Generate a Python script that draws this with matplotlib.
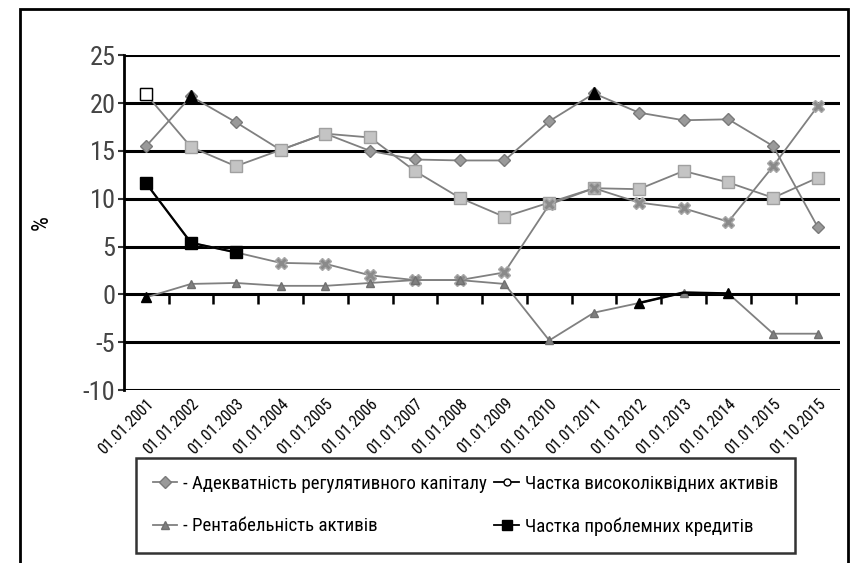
import numpy as np
import matplotlib

matplotlib.use('Agg')
import matplotlib.pyplot as plt
from matplotlib import font_manager
from matplotlib.lines import Line2D
from matplotlib.patches import Rectangle
from matplotlib.textpath import TextPath


def has_glyphs(path, text):
    try:
        ft = font_manager.get_font(path)
        return all(ft.get_char_index(ord(c)) != 0 for c in text)
    except Exception:
        return False


def text_width(path, text):
    try:
        p = font_manager.FontProperties(fname=path, size=10)
        return TextPath((0, 0), text, prop=p).get_extents().width
    except Exception:
        return 1e9


# вузький звичайний шрифт зі знайомих родин
known = ['DejaVu Sans', 'Liberation Sans', 'Noto Sans', 'Roboto', 'Open Sans', 'Lato', 'Inter']
cands = [f for f in font_manager.fontManager.ttflist
         if any(f.name.startswith(k) for k in known)
         and 'Mono' not in f.name and 'CJK' not in f.name
         and f.style == 'normal' and f.weight in (400, 'normal', 'regular', 'book')
         and has_glyphs(f.fname, 'ЧАіївкп0123456789')]
if cands:
    best = min(cands, key=lambda f: text_width(f.fname, 'Адекватність 01.01.2001'))
    fp_base = font_manager.FontProperties(fname=best.fname)
else:
    fp_base = font_manager.FontProperties(family='Liberation Sans')
plt.rcParams['axes.unicode_minus'] = False

# дати (кінці періодів)
dates = ['01.01.2001', '01.01.2002', '01.01.2003', '01.01.2004', '01.01.2005',
         '01.01.2006', '01.01.2007', '01.01.2008', '01.01.2009', '01.01.2010',
         '01.01.2011', '01.01.2012', '01.01.2013', '01.01.2014', '01.01.2015',
         '01.10.2015']

# показники, %
adequacy = [15.5, 20.7, 18.0, 15.1, 16.8, 15.0, 14.1, 14.0, 14.0, 18.1,
            21.0, 19.0, 18.2, 18.3, 15.5, 7.0]
liquid = [20.9, 15.4, 13.4, 15.1, 16.8, 16.4, 12.9, 10.1, 8.1, 9.6,
          11.1, 11.0, 12.9, 11.7, 10.1, 12.2]
roa = [-0.3, 1.1, 1.2, 0.9, 0.9, 1.2, 1.5, 1.5, 1.1, -4.8,
       -1.9, -0.9, 0.2, 0.1, -4.1, -4.1]
problem = [11.6, 5.4, 4.4, 3.3, 3.2, 2.0, 1.5, 1.5, 2.3, 9.4,
           11.1, 9.6, 9.0, 7.6, 13.4, 19.7]

labels = ['- Адекватність регулятивного капіталу', '- Рентабельність активів',
          'Частка високоліквідних активів', 'Частка проблемних кредитів']

x = np.arange(len(dates))
gray_line = '#808080'


def fp(size):
    p = fp_base.copy()
    p.set_size(size)
    return p


fig = plt.figure(figsize=(8.54, 5.63), dpi=100)
ax = fig.add_axes([0.145, 0.307, 0.839, 0.595])

# сітка
for v in range(-10, 26, 5):
    ax.axhline(v, color='black', lw=2.2, zorder=1)

ax.plot(x, adequacy, color=gray_line, lw=1.3, marker='D', ms=6,
        mfc='#9a9a9a', mec='#7a7a7a', zorder=3)
ax.plot(x, liquid, color=gray_line, lw=1.3, marker='s', ms=8,
        mfc='#c4c4c4', mec='#a0a0a0', zorder=3)
ax.plot(x, problem, color=gray_line, lw=1.3, marker='X', ms=9,
        mfc='#8a8a8a', mec='#a8a8a8', zorder=3)
ax.plot(x, roa, color=gray_line, lw=1.3, marker='^', ms=6,
        mfc='#808080', mec='#707070', zorder=3)

# темні фрагменти як на скані
ax.plot(x[:3], problem[:3], color='black', lw=1.6, marker='s', ms=9, zorder=4)
ax.plot(x[:1], liquid[:1], ls='none', marker='s', ms=8, mfc='white', mec='black', zorder=4)
ax.plot(x[[1, 10]], np.array(adequacy)[[1, 10]], ls='none', marker='^', ms=9,
        color='black', zorder=4)
ax.plot(x[11:14], roa[11:14], color='black', lw=1.8, zorder=4)
ax.plot(x[[0, 11, 13]], np.array(roa)[[0, 11, 13]], ls='none', marker='^', ms=7,
        color='black', zorder=4)

ax.set_xlim(-0.5, len(dates) - 0.5)
ax.set_ylim(-10, 25)
ax.set_yticks(range(-10, 26, 5))
ax.tick_params(axis='y', length=4, width=1.5, colors='#333333', pad=2)
for t in ax.get_yticklabels():
    t.set_fontproperties(fp(19))
    t.set_color('#444444')

for s in ['top', 'right']:
    ax.spines[s].set_visible(False)
ax.spines['left'].set_linewidth(2)
ax.spines['bottom'].set_visible(False)

ax.set_xticks(x)
ax.set_xticklabels(dates, rotation=45, ha='right', va='top',
                   rotation_mode='anchor', fontproperties=fp(11.5))
ax.tick_params(axis='x', length=0, pad=4)

# вісь X проходить через нуль
sec = ax.secondary_xaxis(10 / 35)
sec.set_xticks(np.arange(0.5, len(dates) - 0.5, 1.0))
sec.set_xticklabels([])
sec.tick_params(length=7, width=1.8, direction='out')
sec.spines['bottom'].set_visible(False)

ax.set_ylabel('%', fontproperties=fp(17), labelpad=22)

handles = [
    Line2D([], [], color=gray_line, lw=1.3, marker='D', ms=6, mfc='#9a9a9a', mec='#7a7a7a'),
    Line2D([], [], color=gray_line, lw=1.3, marker='^', ms=6, mfc='#808080', mec='#707070'),
    Line2D([], [], color='black', lw=1.3, marker='o', ms=5, mfc='white', mec='black'),
    Line2D([], [], color='black', lw=1.3, marker='s', ms=7),
]
leg = fig.legend(handles, labels, ncol=2, loc='lower center',
                 bbox_to_anchor=(0.545, 0.018),
                 prop=fp(13.6), handlelength=1.3, handletextpad=0.3,
                 borderaxespad=0, fancybox=False, edgecolor='black',
                 columnspacing=0.4, labelspacing=1.3, borderpad=0.9)
leg.get_frame().set_linewidth(1.8)

# зовнішня рамка
fig.patches.append(Rectangle((20 / 854, -0.02), 828 / 854, 1.0 - 9 / 563 + 0.02,
                             transform=fig.transFigure, fill=False,
                             edgecolor='black', lw=2))

plt.savefig('out.png', dpi=100)
